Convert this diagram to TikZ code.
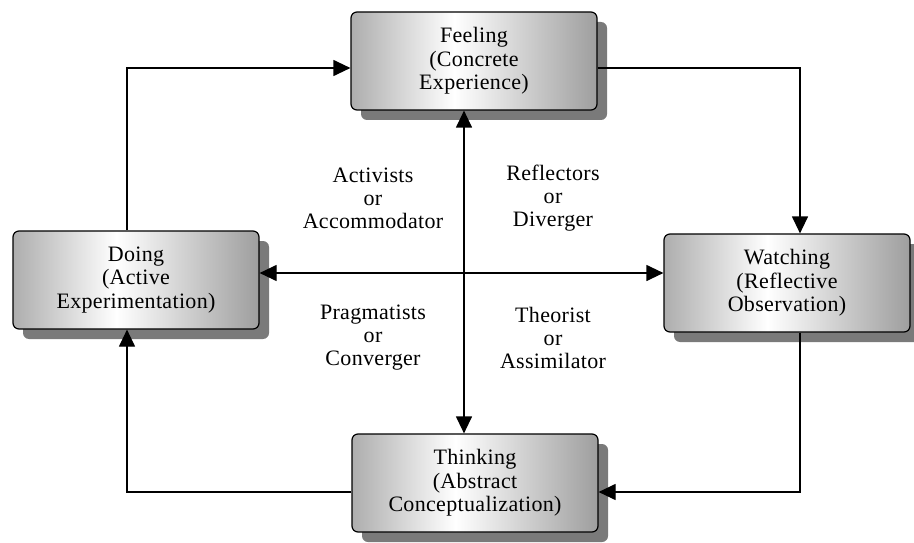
\documentclass[tikz,border=0pt]{standalone}
\usepackage{fontspec}
\setmainfont{Liberation Serif}[LetterSpace=1.5]
\usetikzlibrary{arrows.meta,shadows}
\pgfdeclarehorizontalshading{boxshade}{100bp}{color(0bp)=(black!32); color(25bp)=(black!32); color(46bp)=(white); color(75bp)=(black!38); color(100bp)=(black!38)}
\begin{document}
\begin{tikzpicture}[x=1pt,y=-1pt,
  box/.style={draw=black, line width=1.2pt, rounded corners=6pt,
    shading=boxshade, minimum width=246pt, minimum height=98pt,
    align=center, inner sep=2pt,
    font=\fontsize{22}{23.5}\selectfont,
    drop shadow={shadow xshift=10pt, shadow yshift=-10pt, fill=black!52, opacity=1}},
  lbl/.style={align=center, font=\fontsize{22}{23}\selectfont},
  arr/.style={line width=1.2pt, -{Triangle[length=17pt,width=16pt]}},
  arrb/.style={line width=1.2pt, {Triangle[length=17pt,width=16pt]}-{Triangle[length=17pt,width=16pt]}}]
\useasboundingbox (0,0) rectangle (914,543);
\node[box] (feeling) at (474,61) {Feeling\\(Concrete\\Experience)};
\node[box] (doing) at (136,280) {Doing\\(Active\\Experimentation)};
\node[box] (watching) at (787,283) {Watching\\(Reflective\\Observation)};
\node[box] (thinking) at (475,483) {Thinking\\(Abstract\\Conceptualization)};
\coordinate (tl) at (127,68);
\coordinate (tr) at (800,68);
\coordinate (br) at (800,492);
\coordinate (bl) at (127,492);
\coordinate (vx) at (464,273);
\draw[arr] (doing.north -| tl) |- (feeling.west |- tl);
\draw[arr] (feeling.east |- tr) -| (watching.north -| tr);
\draw[arr] (watching.south -| br) |- (thinking.east |- br);
\draw[arr] (thinking.west |- bl) -| (doing.south -| bl);
\draw[arrb] (feeling.south -| vx) -- (thinking.north -| vx);
\draw[arrb] (doing.east |- vx) -- (watching.west |- vx);
\node[lbl] (act) at (373,198) {Activists\\or\\Accommodator};
\node[lbl] (ref) at (553,198) {Reflectors\\or\\Diverger};
\node[lbl] (prag) at (373,338) {Pragmatists\\or\\Converger};
\node[lbl] (theo) at (553,338) {Theorist\\or\\Assimilator};
\end{tikzpicture}
\end{document}
